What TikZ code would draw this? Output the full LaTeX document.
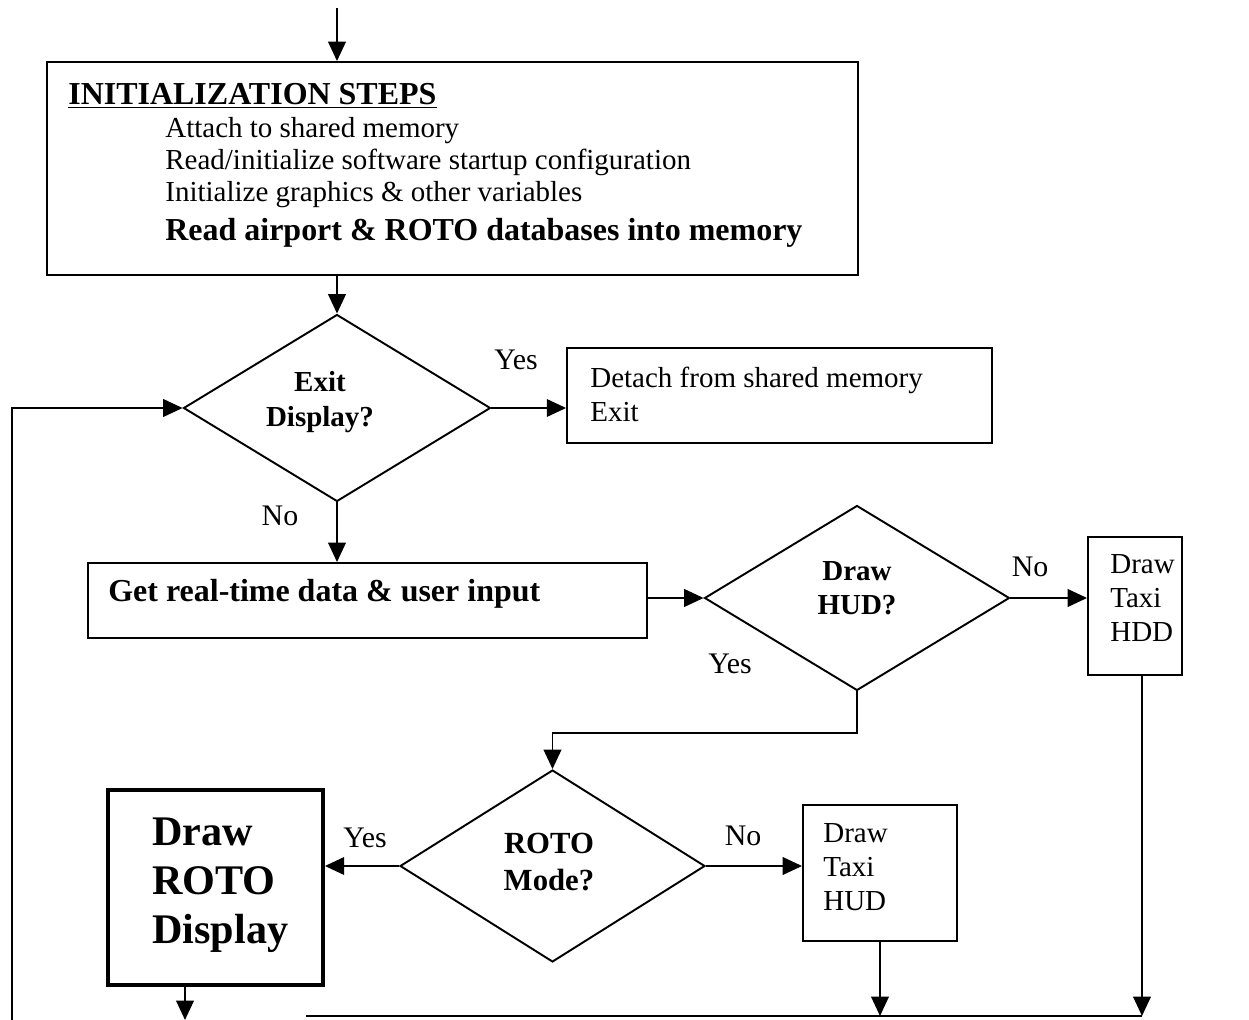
\documentclass[tikz,border=0pt]{standalone}
\usepackage{fontspec}
\setmainfont{Liberation Serif}
\usetikzlibrary{shapes.geometric,arrows.meta}
\tikzset{
  box/.style={draw, line width=1.1pt, inner sep=0pt},
  dia/.style={draw, shape=diamond, line width=1.1pt, inner sep=0pt},
  arr/.style={line width=1.1pt, -{Triangle[length=11pt,width=10pt]}},
  ln/.style={line width=1.1pt},
  reg/.style={inner sep=0pt, font=\fontsize{16.5}{19.3}\selectfont, align=left},
  bld/.style={inner sep=0pt, font=\fontsize{18.2}{21}\selectfont\bfseries, align=left},
  dtxt/.style={inner sep=0pt, font=\fontsize{16.5}{19.5}\selectfont\bfseries, align=center},
  lbl/.style={inner sep=0pt, font=\fontsize{17}{20}\selectfont},
}
\begin{document}
\begin{tikzpicture}[x=0.02cm,y=-0.02cm]
\useasboundingbox (0,0) rectangle (1249,1020);
% boxes
\node[box, minimum width=16.22cm, minimum height=4.26cm] (init) at (452.5,168.5) {};
\node[box, minimum width=8.5cm, minimum height=1.9cm] (exitb) at (779.5,395.5) {};
\node[box, minimum width=11.18cm, minimum height=1.5cm] (getb) at (367.5,600.5) {};
\node[box, minimum width=1.88cm, minimum height=2.76cm] (hdd) at (1135,606) {};
\node[draw, line width=2.2pt, inner sep=0pt, minimum width=4.3cm, minimum height=3.9cm] (roto) at (215.5,887.5) {};
\node[box, minimum width=3.08cm, minimum height=2.72cm] (hud) at (880,873) {};
% diamonds
\node[dia, minimum width=6.14cm, minimum height=3.74cm] (d1) at (337,408) {};
\node[dia, minimum width=6.1cm, minimum height=3.7cm] (d2) at (857,598) {};
\node[dia, minimum width=6.1cm, minimum height=3.84cm] (d3) at (552.5,866) {};
% texts
\node[bld, anchor=base west] (t0) at (68,105) {\underline{INITIALIZATION STEPS}};
\node[reg, anchor=base west] (t1) at (165,138) {Attach to shared memory};
\node[reg, anchor=base west] (t2) at (165,170) {Read/initialize software startup configuration};
\node[reg, anchor=base west] (t3) at (165,202) {Initialize graphics \& other variables};
\node[bld, anchor=base west] (t4) at (165,241) {Read airport \& ROTO databases into memory};
\node[reg, anchor=north west] (te) at (590,367) {Detach from shared memory\\Exit};
\node[bld, anchor=base west] (tg) at (108,602) {Get real-time data \& user input};
\node[reg, anchor=north west] (th) at (1110,554) {Draw\\Taxi\\HDD};
\node[reg, anchor=north west] (tu) at (823,823) {Draw\\Taxi\\HUD};
\node[dtxt] (td1) at (320,402) {Exit\\Display?};
\node[dtxt] (td2) at (857,588) {Draw\\HUD?};
\node[dtxt, font=\fontsize{17.5}{21}\selectfont\bfseries] (td3) at (549,862) {ROTO\\Mode?};
\node[inner sep=0pt, font=\fontsize{24}{28}\selectfont\bfseries, align=left, anchor=west] (tr) at (152,885) {Draw\\ROTO\\Display};
% labels
\node[lbl] (y1) at (516,360) {Yes};
\node[lbl] (n1) at (280,516) {No};
\node[lbl] (n2) at (1030,567) {No};
\node[lbl] (y2) at (730,664) {Yes};
\node[lbl] (y3) at (365,838) {Yes};
\node[lbl] (n3) at (743,836) {No};
% coordinates
\coordinate (top) at (337,8);
\coordinate (bl) at (306,1016);
\coordinate (rout) at (185,1020);
\coordinate (lb) at (12,1020);
\coordinate (hddx) at (1142,0);
% connectors
\draw[arr] (top) -- (top |- init.north);
\draw[arr] (d1.north |- init.south) -- (d1.north);
\draw[arr] (d1.east) -- (d1.east -| exitb.west);
\draw[arr] (d1.south) -- (d1.south |- getb.north);
\draw[arr] (d2.west -| getb.east) -- (d2.west);
\draw[arr] (d2.east) -- (d2.east -| hdd.west);
\draw[arr] (d2.south) -- ++(0,42) -| (d3.north);
\draw[arr] (d3.west) -- (d3.west -| roto.east);
\draw[arr] (d3.east) -- (d3.east -| hud.west);
\draw[arr] (hud.south) -- (hud.south |- bl);
\draw[arr] (hddx |- hdd.south) -- (hddx |- bl);
\draw[ln] (bl) -- (hddx |- bl);
\draw[arr] (rout |- roto.south) -- (rout);
\draw[arr] (lb) |- (d1.west);
\end{tikzpicture}
\end{document}
